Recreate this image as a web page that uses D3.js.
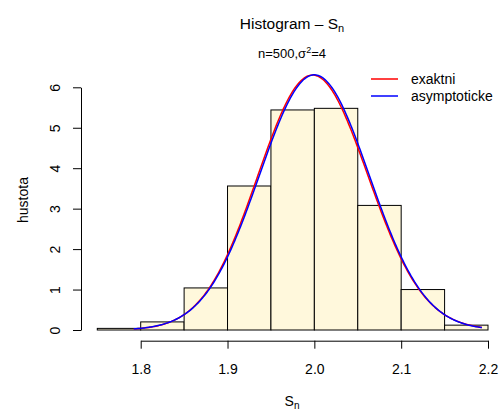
<!DOCTYPE html>
<html><head><meta charset="utf-8">
<script src="https://cdn.jsdelivr.net/npm/d3@7"></script>
<style>body{margin:0;background:#fff}svg{display:block}text{font-family:"Liberation Sans",Arial,Helvetica,sans-serif}</style>
</head><body><svg id="c" width="501" height="412"></svg>
<script>
// Data
const binEdges = [1.75,1.80,1.85,1.90,1.95,2.00,2.05,2.10,2.15,2.20];
const density  = [0.04,0.20,1.04,3.56,5.44,5.48,3.08,1.00,0.12];
const xTicks = [1.8,1.9,2.0,2.1,2.2];
const yTicks = [0,1,2,3,4,5,6];
const nObs = 500, sigma2 = 4;           // from the subtitle
const curveRange = [1.792, 2.193];
const legendLabels = ["exaktni","asymptoticke"];
const legendColors = ["#ff0000","#0000ff"];

const svg = d3.select("#c");
const x = d3.scaleLinear().domain([1.8,2.2]).range([140.7,488]);
const y = d3.scaleLinear().domain([0,6]).range([330,87.3]);

// bars
svg.append("g").selectAll("rect").data(density).join("rect")
  .attr("x", (d,i)=>x(binEdges[i]))
  .attr("width", (d,i)=>x(binEdges[i+1])-x(binEdges[i]))
  .attr("y", d=>y(d))
  .attr("height", d=>y(0)-y(d))
  .attr("fill","#FFF8DC").attr("stroke","#000").attr("stroke-width",1);

// theoretical densities
function lgamma(z){
  const g=7, c=[0.99999999999980993,676.5203681218851,-1259.1392167224028,771.32342877765313,-176.61502916214059,12.507343278686905,-0.13857109526572012,9.9843695780195716e-6,1.5056327351493116e-7];
  z-=1; let a=c[0]; const t=z+g+0.5;
  for(let i=1;i<9;i++) a+=c[i]/(z+i);
  return 0.5*Math.log(2*Math.PI)+(z+0.5)*Math.log(t)-t+Math.log(a);
}
const k = nObs-1, sigma = Math.sqrt(sigma2);
function exact(s){ // density of sample sd
  const q = k*s*s/sigma2;
  const lp = (k/2-1)*Math.log(q) - q/2 - (k/2)*Math.log(2) - lgamma(k/2);
  return Math.exp(lp)*2*k*s/sigma2;
}
const sdA = Math.sqrt(sigma2/(2*nObs));
function asym(s){ return Math.exp(-0.5*((s-sigma)/sdA)**2)/(sdA*Math.sqrt(2*Math.PI)); }
const grid = d3.range(0,301).map(i=>curveRange[0]+(curveRange[1]-curveRange[0])*i/300);
const line = d3.line().x(d=>x(d[0])).y(d=>y(d[1]));
svg.append("path").datum(grid.map(s=>[s,exact(s)])).attr("d",line)
  .attr("fill","none").attr("stroke",legendColors[0]).attr("stroke-width",1.5);
svg.append("path").datum(grid.map(s=>[s,asym(s)])).attr("d",line)
  .attr("fill","none").attr("stroke",legendColors[1]).attr("stroke-width",1.5);

// axes
const FS = 14;
const xa = svg.append("g").attr("transform","translate(0,340.7)")
  .call(d3.axisBottom(x).tickValues(xTicks).tickFormat(d3.format(".1f")).tickSizeInner(8).tickSizeOuter(0).tickPadding(15));
const ya = svg.append("g").attr("transform","translate(81,0)")
  .call(d3.axisLeft(y).tickValues(yTicks).tickFormat(d3.format("d")).tickSizeInner(8).tickSizeOuter(0));
[xa,ya].forEach(a=>{a.selectAll("path,line").attr("stroke","#000");a.selectAll("text").attr("font-size",FS).attr("fill","#000").style("font-family",'"Liberation Sans",Arial,sans-serif');});
xa.selectAll(".tick text").attr("dy",null).attr("y",33);
ya.selectAll(".tick text").attr("transform","rotate(-90)").attr("text-anchor","middle")
  .attr("x",0).attr("dy","0").attr("y",-21);

// titles
const t = svg.append("text").attr("x",292).attr("y",28.5).attr("text-anchor","middle").attr("font-size",15.5);
t.append("tspan").text("Histogram \u2013 S");
t.append("tspan").attr("dy",3).attr("font-size",11).text("n");
const st = svg.append("text").attr("x",292).attr("y",58).attr("text-anchor","middle").attr("font-size",13);
st.append("tspan").text("n=500,\u03c3");
st.append("tspan").attr("dy",-5).attr("font-size",9).text("2");
st.append("tspan").attr("dy",5).text("=4");
const xl = svg.append("text").attr("x",292).attr("y",406).attr("text-anchor","middle").attr("font-size",FS);
xl.append("tspan").text("S");
xl.append("tspan").attr("dy",3).attr("font-size",10).text("n");
svg.append("text").attr("transform","translate(27.5,200) rotate(-90)").attr("text-anchor","middle").attr("font-size",FS).text("hustota");

// legend
const lg = svg.append("g").selectAll("g").data(legendLabels).join("g")
  .attr("transform",(d,i)=>`translate(0,${79+i*17})`);
lg.append("line").attr("x1",371).attr("x2",398).attr("stroke",(d,i)=>legendColors[i]).attr("stroke-width",1.5);
lg.append("text").attr("x",411).attr("y",5).attr("font-size",FS).text(d=>d);
</script></body></html>
